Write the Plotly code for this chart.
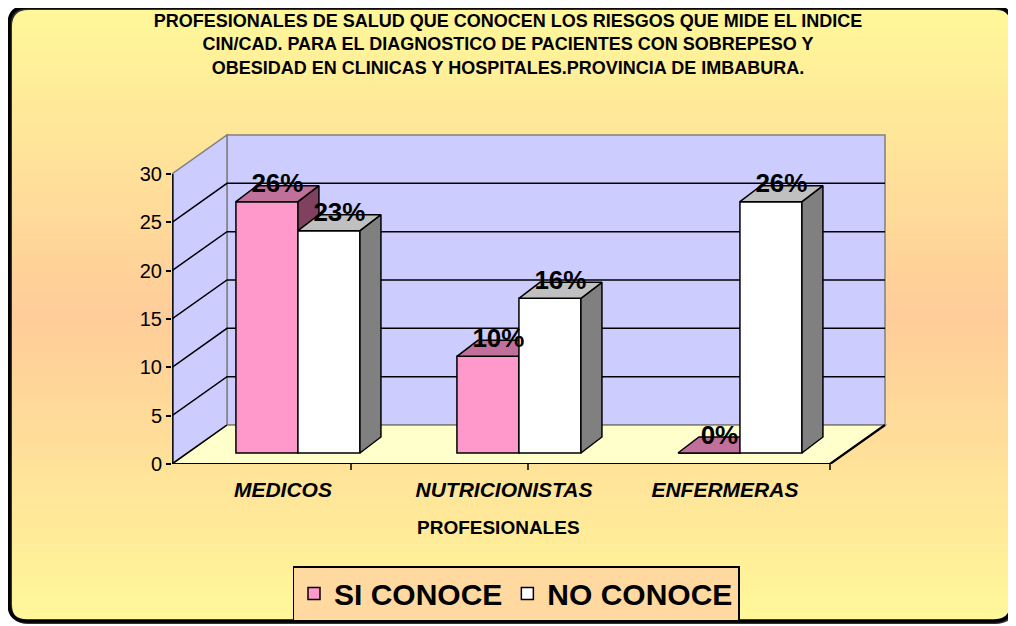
import plotly.graph_objects as go

# ---------------- data ----------------
categories = ["MEDICOS", "NUTRICIONISTAS", "ENFERMERAS"]
si_conoce = [26, 10, 0]
no_conoce = [23, 16, 26]
si_labels = ["26%", "10%", "0%"]
no_labels = ["23%", "16%", "26%"]
y_ticks = [0, 5, 10, 15, 20, 25, 30]
series_names = ["SI CONOCE", "NO CONOCE"]
title_lines = [
    "PROFESIONALES DE SALUD QUE CONOCEN LOS RIESGOS QUE MIDE EL INDICE",
    "CIN/CAD. PARA EL DIAGNOSTICO DE PACIENTES CON SOBREPESO Y",
    "OBESIDAD EN CLINICAS Y HOSPITALES.PROVINCIA DE IMBABURA.",
]
x_title = "PROFESIONALES"

# ---------------- layout geometry (style) ----------------
# page body has an 8px margin; positions below are given in window pixels
OFF = 8
W, H = 1016, 626
PLOT_L, PLOT_R, PLOT_T, PLOT_B = 172, 887, 133, 464   # window pixels
ML, MT = PLOT_L - OFF, PLOT_T - OFF
MR, MB = W - (PLOT_R - OFF), H - (PLOT_B - OFF)
PW = PLOT_R - PLOT_L
PH = PLOT_B - PLOT_T

PX_PER_X = 221.0
X_MIN = -0.502
X_MAX = X_MIN + PW / PX_PER_X
Y_MAX = 34.24
PX_PER_Y = PH / Y_MAX

FLOOR_END = X_MIN + (830 - PLOT_L) / PX_PER_X
WALL_DX = 55 / PX_PER_X
WALL_DY = 39 / PX_PER_Y
BAR_SHIFT = 15 / PX_PER_X
BAR_BASE = 11 / PX_PER_Y
BAR_W = 62 / PX_PER_X
BAR_DX = 21 / PX_PER_X
BAR_DY = 16 / PX_PER_Y
Y_TOP = y_ticks[-1]

FONT = "Liberation Sans, Arial, sans-serif"
PINK, PINK_TOP, PINK_SIDE = "#FF99CC", "#C0709A", "#804060"
WHITE, WHITE_TOP, WHITE_SIDE = "#FFFFFF", "#C0C0C0", "#808080"
WALL, FLOOR, EDGE_GREY = "#CCCCFF", "#FFFFCC", "#808080"


def px2x(px):
    return (px - PLOT_L) / PW


def py2y(py):
    return (PLOT_B - py) / PH


positions = list(range(len(categories)))

# ---------------- background shapes ----------------
shapes = []
top_px, bot_px, left_px, right_px = 7, 621, 9, 1012
c_top = (255, 248, 153)
c_mid = (255, 204, 153)
n_bands = 80
mid_px = (top_px + bot_px) / 2
for i in range(n_bands):
    y0 = top_px + (bot_px - top_px) * i / n_bands
    y1 = top_px + (bot_px - top_px) * (i + 1) / n_bands
    yc = (y0 + y1) / 2
    t = 1 - abs(yc - mid_px) / (mid_px - top_px)
    col = tuple(round(c_top[k] + (c_mid[k] - c_top[k]) * t) for k in range(3))
    shapes.append(dict(type="rect", xref="paper", yref="paper", layer="below",
                       x0=px2x(left_px), x1=px2x(right_px), y0=py2y(y1 + 0.6), y1=py2y(y0),
                       fillcolor="rgb(%d,%d,%d)" % col, line=dict(width=0)))

R = 18
corners = [
    (left_px, top_px, 1, 1), (right_px, top_px, -1, 1),
    (left_px, bot_px, 1, -1), (right_px, bot_px, -1, -1),
]
for cx, cy, sx, sy in corners:
    path = "M {a},{b} L {c},{b} Q {a},{b} {a},{d} Z".format(
        a=px2x(cx), b=py2y(cy), c=px2x(cx + sx * R), d=py2y(cy + sy * R))
    shapes.append(dict(type="path", xref="paper", yref="paper", layer="below",
                       path=path, fillcolor="white", line=dict(width=0)))


def rr_path(x0, y0, x1, y1, r):
    return ("M {a},{t} L {b},{t} Q {r_},{t} {r_},{c} L {r_},{d} Q {r_},{bt} {b},{bt} "
            "L {a},{bt} Q {l},{bt} {l},{d} L {l},{c} Q {l},{t} {a},{t} Z").format(
        a=px2x(x0 + r), b=px2x(x1 - r), t=py2y(y0), bt=py2y(y1),
        c=py2y(y0 + r), d=py2y(y1 - r), l=px2x(x0), r_=px2x(x1))


shapes.append(dict(type="path", xref="paper", yref="paper", layer="below",
                   path=rr_path(left_px + 1.5, top_px + 1.5, right_px + 1.5, bot_px + 1.5, R),
                   line=dict(color="#333333", width=3)))
shapes.append(dict(type="path", xref="paper", yref="paper", layer="below",
                   path=rr_path(left_px, top_px, right_px, bot_px, R),
                   line=dict(color="black", width=3.5)))

# walls and floor (data coordinates)
bx0 = X_MIN + WALL_DX
bx1 = FLOOR_END + WALL_DX
shapes.append(dict(type="rect", xref="x", yref="y", layer="below",
                   x0=bx0, x1=bx1, y0=WALL_DY, y1=Y_TOP + WALL_DY,
                   fillcolor=WALL, line=dict(color=EDGE_GREY, width=1.5)))
shapes.append(dict(type="path", xref="x", yref="y", layer="below",
                   path="M {a},0 L {a},{t} L {b},{t2} L {b},{d} Z".format(
                       a=X_MIN, b=bx0, t=Y_TOP, t2=Y_TOP + WALL_DY, d=WALL_DY),
                   fillcolor=WALL, line=dict(color=EDGE_GREY, width=1.5)))
shapes.append(dict(type="path", xref="x", yref="y", layer="below",
                   path="M {a},0 L {e},0 L {f},{d} L {b},{d} Z".format(
                       a=X_MIN, e=FLOOR_END, f=bx1, b=bx0, d=WALL_DY),
                   fillcolor=FLOOR, line=dict(color=EDGE_GREY, width=1.5)))
for v in y_ticks[1:-1]:
    shapes.append(dict(type="path", xref="x", yref="y", layer="below",
                       path="M {a},{v} L {b},{w} L {c},{w}".format(
                           a=X_MIN, v=v, b=bx0, w=v + WALL_DY, c=bx1),
                       line=dict(color="black", width=1.5)))
shapes.append(dict(type="path", xref="x", yref="y", layer="below",
                   path="M {a},0 L {e},0 L {f},{d}".format(a=X_MIN, e=FLOOR_END, f=bx1, d=WALL_DY),
                   line=dict(color="black", width=2.2)))
shapes.append(dict(type="path", xref="x", yref="y", layer="below",
                   path="M {a},0 L {b},{d}".format(a=X_MIN, b=bx0, d=WALL_DY),
                   line=dict(color="black", width=1.5)))
shapes.append(dict(type="line", xref="x", yref="y", layer="below",
                   x0=X_MIN + 0.004, x1=X_MIN + 0.004, y0=0, y1=Y_TOP,
                   line=dict(color="black", width=1.5)))
for tx in [X_MIN + (351 - PLOT_L) / PX_PER_X, X_MIN + (528 - PLOT_L) / PX_PER_X, FLOOR_END]:
    shapes.append(dict(type="line", xref="x", yref="paper", layer="below",
                       x0=tx, x1=tx, y0=0, y1=-6 / PH, line=dict(color="black", width=1.5)))


# ---------------- 3D bar faces ----------------
def faces(values, offset):
    tx, ty, sx, sy = [], [], [], []
    for p, v in zip(positions, values):
        x0 = p + offset
        x1 = x0 + BAR_W
        yb = BAR_BASE
        yt = BAR_BASE + v
        tx += [x0, x1, x1 + BAR_DX, x0 + BAR_DX, x0, None]
        ty += [yt, yt, yt + BAR_DY, yt + BAR_DY, yt, None]
        sx += [x1, x1, x1 + BAR_DX, x1 + BAR_DX, x1, None]
        sy += [yb, yt, yt + BAR_DY, yb + BAR_DY, yb, None]
    return tx, ty, sx, sy


fig = go.Figure()

series = [
    (si_conoce, si_labels, series_names[0], BAR_SHIFT - BAR_W, PINK, PINK_TOP, PINK_SIDE, "x", "y"),
    (no_conoce, no_labels, series_names[1], BAR_SHIFT, WHITE, WHITE_TOP, WHITE_SIDE, "x2", "y2"),
]
for vals, labs, name, off, cf, ct, cs, xa, ya in series:
    fig.add_trace(go.Bar(
        x=positions, y=vals, base=[BAR_BASE] * len(vals), width=BAR_W, offset=off,
        name=name, marker=dict(color=cf, line=dict(color="black", width=1.5)),
        xaxis=xa, yaxis=ya, customdata=labs,
        hovertemplate="%{customdata}<extra>" + name + "</extra>"))
    tx, ty, sx, sy = faces(vals, off)
    fig.add_trace(go.Scatter(x=sx, y=sy, mode="lines", fill="toself", fillcolor=cs,
                             line=dict(color="black", width=1.5), showlegend=False,
                             hoverinfo="skip", xaxis=xa, yaxis=ya))
    fig.add_trace(go.Scatter(x=tx, y=ty, mode="lines", fill="toself", fillcolor=ct,
                             line=dict(color="black", width=1.5), showlegend=False,
                             hoverinfo="skip", xaxis=xa, yaxis=ya))

# value labels
lx, ly, lt = [], [], []
for vals, labs, off in [(si_conoce, si_labels, BAR_SHIFT - BAR_W), (no_conoce, no_labels, BAR_SHIFT)]:
    for p, v, t in zip(positions, vals, labs):
        lx.append(p + off + BAR_W / 2 + BAR_DX / 2)
        ly.append(BAR_BASE + v + BAR_DY)
        lt.append(t)
fig.add_trace(go.Scatter(x=lx, y=ly, text=lt, mode="text", textposition="middle center",
                         textfont=dict(family=FONT, size=26, color="black", weight="bold"),
                         showlegend=False, hoverinfo="skip", cliponaxis=False,
                         xaxis="x2", yaxis="y2"))

annotations = [dict(text=x_title, xref="paper", yref="paper", x=px2x(498), y=py2y(527),
                    xanchor="center", yanchor="middle", showarrow=False,
                    font=dict(family=FONT, size=19, color="black", weight="bold"))]

fig.update_layout(
    width=W, height=H, autosize=False,
    margin=dict(l=ML, r=MR, t=MT, b=MB),
    paper_bgcolor="white", plot_bgcolor="rgba(0,0,0,0)",
    barmode="overlay",
    title=dict(text="<br>".join(title_lines), x=(508 - OFF) / W, xanchor="center",
               xref="container", yref="container", y=1 - 19 / H, yanchor="top",
               font=dict(family=FONT, size=18, color="black", weight="bold")),
    xaxis=dict(range=[X_MIN, X_MAX], tickvals=positions, ticktext=categories,
               ticks="", showgrid=False, zeroline=False, showline=False,
               ticklabelstandoff=11,
               tickfont=dict(family=FONT, size=21, color="black", weight="bold", style="italic")),
    yaxis=dict(range=[0, Y_MAX], tickvals=y_ticks, ticks="outside", ticklen=5,
               tickcolor="black", tickwidth=1.5, showgrid=False, zeroline=False,
               showline=False, tickfont=dict(family=FONT, size=20, color="black")),
    xaxis2=dict(range=[X_MIN, X_MAX], overlaying="x", anchor="y2", visible=False),
    yaxis2=dict(range=[0, Y_MAX], overlaying="y", anchor="x2", visible=False),
    legend=dict(orientation="h", x=px2x(516), xanchor="center", y=py2y(566), yanchor="top",
                bgcolor="#FFD9A0", bordercolor="black", borderwidth=1.5,
                font=dict(family=FONT, size=30, color="black", weight="bold"),
                itemclick=False, itemdoubleclick=False),
    shapes=shapes,
    annotations=annotations,
    showlegend=True,
)

fig.write_html("out.html")
